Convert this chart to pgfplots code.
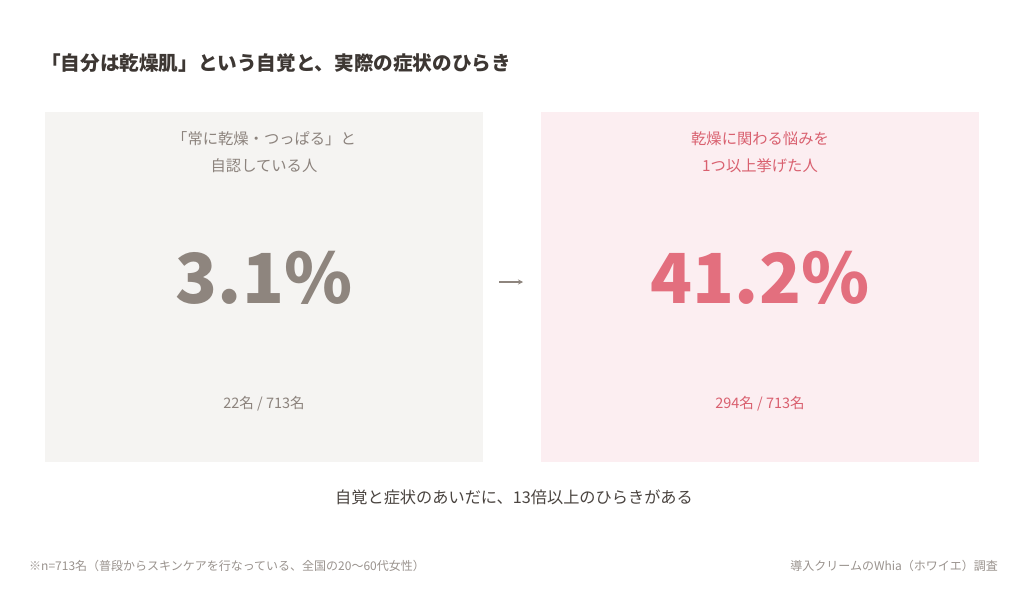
\documentclass[border=0pt]{standalone}
\usepackage{pgfplots}
\pgfplotsset{compat=1.18}
\usepackage{fontspec}
\setmainfont{Noto Sans CJK JP}
\usetikzlibrary{arrows.meta}
\definecolor{boxgrey}{HTML}{F5F4F2}
\definecolor{boxpink}{HTML}{FCEEF1}
\definecolor{numgrey}{HTML}{8E857E}
\definecolor{numpink}{HTML}{E36F7E}
\definecolor{subgrey}{HTML}{8C837D}
\definecolor{subpink}{HTML}{D9606F}
\definecolor{titlec}{HTML}{3D3733}
\definecolor{bottomc}{HTML}{4A4440}
\definecolor{footc}{HTML}{9A938E}
\begin{document}
\begin{tikzpicture}
\begin{axis}[
  width=1024pt, height=597pt, scale only axis,
  xmin=0, xmax=1024, ymin=0, ymax=597, y dir=reverse,
  axis lines=none, clip=false,
]
% background
\addplot[fill=white, draw=none] coordinates {(0,0) (1024,0) (1024,597) (0,597)} -- cycle;
% boxes
\addplot[fill=boxgrey, draw=none] coordinates {(45,112) (483,112) (483,462) (45,462)} -- cycle;
\addplot[fill=boxpink, draw=none] coordinates {(541,112) (979,112) (979,462) (541,462)} -- cycle;
% title
\node[anchor=base west, text=titlec, font=\fontsize{19.6}{24}\selectfont\bfseries, inner sep=0pt] at (axis cs:41,70) {「自分は乾燥肌」という自覚と、実際の症状のひらき};
% left box
\node[anchor=base, text=subgrey, font=\fontsize{15.3}{18}\selectfont, inner sep=0pt] at (axis cs:264,144) {「常に乾燥・つっぱる」と};
\node[anchor=base, text=subgrey, font=\fontsize{15.3}{18}\selectfont, inner sep=0pt] at (axis cs:264,171) {自認している人};
\node[anchor=base, text=numgrey, font=\fontsize{69}{82}\selectfont\bfseries, inner sep=0pt] at (axis cs:264,303) {3.1\%};
\node[anchor=base, text=subgrey, font=\fontsize{14.5}{18}\selectfont, inner sep=0pt] at (axis cs:264,408) {22名 / 713名};
% right box
\node[anchor=base, text=subpink, font=\fontsize{15.3}{18}\selectfont, inner sep=0pt] at (axis cs:760,144) {乾燥に関わる悩みを};
\node[anchor=base, text=subpink, font=\fontsize{15.3}{18}\selectfont, inner sep=0pt] at (axis cs:760,171) {1つ以上挙げた人};
\node[anchor=base, text=numpink, font=\fontsize{69}{82}\selectfont\bfseries, inner sep=0pt] at (axis cs:760,303) {41.2\%};
\node[anchor=base, text=subpink, font=\fontsize{14.5}{18}\selectfont, inner sep=0pt] at (axis cs:760,408) {294名 / 713名};
% arrow
\draw[numgrey, line width=1.6pt, -{Stealth[length=5pt, width=5pt]}] (axis cs:499,282) -- (axis cs:523,282);
% bottom
\node[anchor=base, text=bottomc, font=\fontsize{16.2}{20}\selectfont, inner sep=0pt] at (axis cs:514,503) {自覚と症状のあいだに、13倍以上のひらきがある};
\node[anchor=base west, text=footc, font=\fontsize{12}{14}\selectfont, inner sep=0pt] at (axis cs:29,570) {※n=713名（普段からスキンケアを行なっている、全国の20〜60代女性）};
\node[anchor=base east, text=footc, font=\fontsize{12}{14}\selectfont, inner sep=0pt] at (axis cs:998,570) {導入クリームのWhia（ホワイエ）調査};
\end{axis}
\end{tikzpicture}
\end{document}
